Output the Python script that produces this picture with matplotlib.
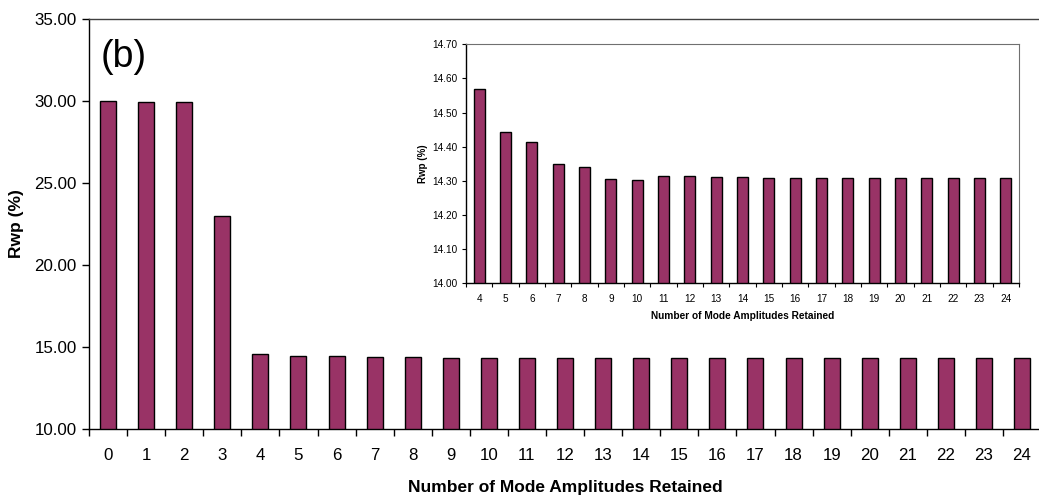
import numpy as np
import matplotlib.pyplot as plt

plt.rcParams['font.family'] = ['Liberation Sans', 'DejaVu Sans']

# Rwp vs number of retained mode amplitudes
modes = np.arange(0, 25)
rwp = [30.00, 29.90, 29.90, 22.95,
       14.570, 14.442, 14.413, 14.349, 14.342, 14.306, 14.303,
       14.313, 14.313, 14.311, 14.311, 14.309, 14.309, 14.309,
       14.308, 14.308, 14.308, 14.308, 14.308, 14.308, 14.308]

# zoomed-in view starts at 4 modes
inset_modes = modes[4:]
inset_rwp = rwp[4:]

bar_color = '#993366'

fig = plt.figure(figsize=(10.39, 4.96), dpi=100)

ax = fig.add_axes([0.0857, 0.1357, 0.9163, 0.8266])
ax.bar(modes, rwp, width=0.42, color=bar_color, edgecolor='black', linewidth=1.0)
ax.set_xlim(-0.5, 24.5)
ax.set_ylim(10, 35)
ax.set_yticks(np.arange(10, 36, 5))
ax.set_yticklabels([f'{v:.2f}' for v in np.arange(10, 36, 5)], fontsize=12.2)
ax.set_xticks(modes)
ax.set_xticklabels([str(m) for m in modes], fontsize=12.2)
ax.set_xticks(np.arange(-0.5, 25, 1), minor=True)
ax.tick_params(axis='x', which='major', length=0, pad=14)
ax.tick_params(axis='x', which='minor', length=5, width=1, direction='out')
ax.tick_params(axis='y', length=5, width=1, direction='out', pad=4)
ax.spines['right'].set_visible(False)
for s in ['left', 'bottom', 'top']:
    ax.spines[s].set_linewidth(1.0)
ax.spines['top'].set_color('#404040')
ax.set_xlabel('Number of Mode Amplitudes Retained', fontsize=12.5, fontweight='bold', labelpad=12)
ax.set_ylabel('Rwp (%)', fontsize=12.5, fontweight='bold', labelpad=7)
ax.text(0.0126, 0.9066, '(b)', transform=ax.transAxes, fontsize=27, va='center', ha='left')

# inset
ins = fig.add_axes([0.4485, 0.4288, 0.5322, 0.4819])
xi = np.arange(len(inset_modes))
ins.bar(xi, inset_rwp, width=0.42, color=bar_color, edgecolor='black', linewidth=1.0)
ins.set_xlim(-0.5, len(inset_modes) - 0.5)
ins.set_ylim(14.0, 14.7)
yt = np.round(np.arange(14.0, 14.71, 0.1), 2)
ins.set_yticks(yt)
ins.set_yticklabels([f'{v:.2f}' for v in yt], fontsize=7.2)
ins.set_xticks(xi)
ins.set_xticklabels([str(m) for m in inset_modes], fontsize=7.2)
ins.set_xticks(np.arange(-0.5, len(inset_modes), 1), minor=True)
ins.tick_params(axis='x', which='major', length=0, pad=8)
ins.tick_params(axis='x', which='minor', length=3, width=0.8, direction='out')
ins.tick_params(axis='y', length=3, width=0.8, direction='out', pad=3)
for s in ['left', 'bottom']:
    ins.spines[s].set_linewidth(1.0)
for s in ['top', 'right']:
    ins.spines[s].set_linewidth(0.8)
    ins.spines[s].set_color('#707070')
ins.set_xlabel('Number of Mode Amplitudes Retained', fontsize=7.3, fontweight='bold', labelpad=5)
ins.set_ylabel('Rwp (%)', fontsize=7, fontweight='bold', labelpad=3)

fig.savefig('out.png', dpi=100)
